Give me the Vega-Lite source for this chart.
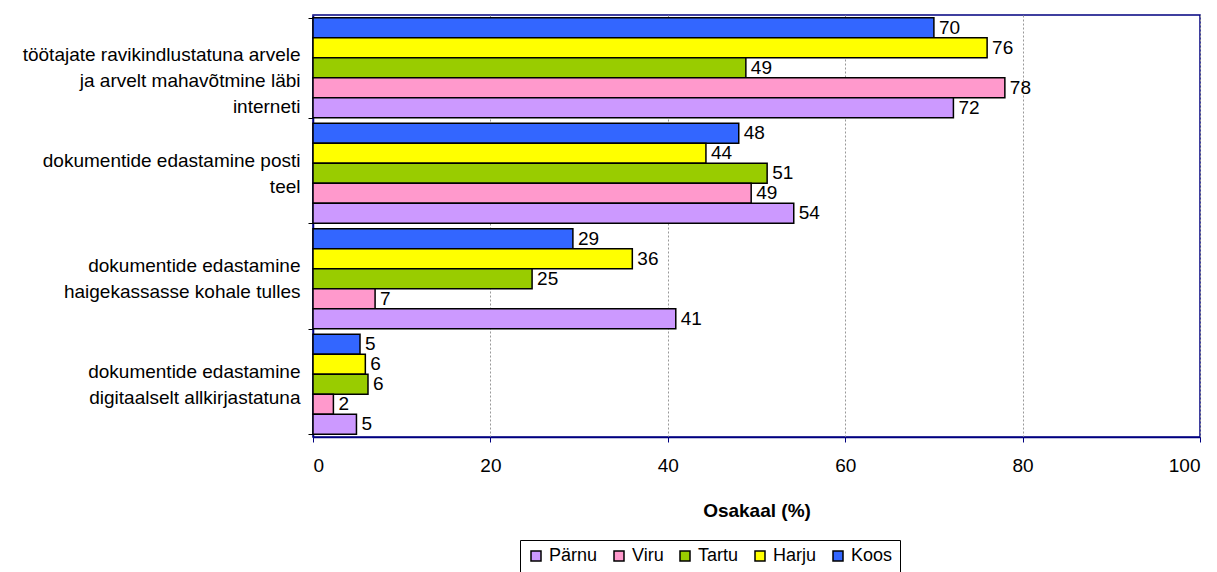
{
  "$schema": "https://vega.github.io/schema/vega-lite/v6.json",
  "width": 887,
  "height": 422,
  "autosize": "none",
  "padding": {"left": 313, "top": 15, "right": 17, "bottom": 135},
  "background": "white",
  "config": {
    "font": "Liberation Sans",
    "view": {"stroke": "#000080", "strokeWidth": 1.5},
    "axis": {"labelFont": "Liberation Sans", "titleFont": "Liberation Sans"}
  },
  "data": {
    "values": [
      {"cat": "töötajate ravikindlustatuna arvele|ja arvelt mahavõtmine läbi|interneti", "series": "Koos", "value": 70},
      {"cat": "töötajate ravikindlustatuna arvele|ja arvelt mahavõtmine läbi|interneti", "series": "Harju", "value": 76},
      {"cat": "töötajate ravikindlustatuna arvele|ja arvelt mahavõtmine läbi|interneti", "series": "Tartu", "value": 48.8},
      {"cat": "töötajate ravikindlustatuna arvele|ja arvelt mahavõtmine läbi|interneti", "series": "Viru", "value": 78},
      {"cat": "töötajate ravikindlustatuna arvele|ja arvelt mahavõtmine läbi|interneti", "series": "Pärnu", "value": 72.2},
      {"cat": "dokumentide edastamine posti|teel", "series": "Koos", "value": 48},
      {"cat": "dokumentide edastamine posti|teel", "series": "Harju", "value": 44.3},
      {"cat": "dokumentide edastamine posti|teel", "series": "Tartu", "value": 51.2},
      {"cat": "dokumentide edastamine posti|teel", "series": "Viru", "value": 49.4},
      {"cat": "dokumentide edastamine posti|teel", "series": "Pärnu", "value": 54.2},
      {"cat": "dokumentide edastamine|haigekassasse kohale tulles", "series": "Koos", "value": 29.3},
      {"cat": "dokumentide edastamine|haigekassasse kohale tulles", "series": "Harju", "value": 36},
      {"cat": "dokumentide edastamine|haigekassasse kohale tulles", "series": "Tartu", "value": 24.7},
      {"cat": "dokumentide edastamine|haigekassasse kohale tulles", "series": "Viru", "value": 7},
      {"cat": "dokumentide edastamine|haigekassasse kohale tulles", "series": "Pärnu", "value": 40.9},
      {"cat": "dokumentide edastamine|digitaalselt allkirjastatuna", "series": "Koos", "value": 5.3},
      {"cat": "dokumentide edastamine|digitaalselt allkirjastatuna", "series": "Harju", "value": 5.9},
      {"cat": "dokumentide edastamine|digitaalselt allkirjastatuna", "series": "Tartu", "value": 6.2},
      {"cat": "dokumentide edastamine|digitaalselt allkirjastatuna", "series": "Viru", "value": 2.3},
      {"cat": "dokumentide edastamine|digitaalselt allkirjastatuna", "series": "Pärnu", "value": 4.9}
    ]
  },
  "encoding": {
    "y": {
      "field": "cat", "type": "nominal", "sort": null,
      "scale": {"paddingInner": 0.05, "paddingOuter": 0.025},
      "axis": {
        "title": null,
        "labelExpr": "split(datum.label, '|')",
        "labelFontSize": 19,
        "labelLineHeight": 26,
        "labelColor": "black",
        "labelAlign": "right",
        "labelBaseline": "middle",
        "labelPadding": 8,
        "labelOffset": -13,
        "labelLimit": 400,
        "tickBand": "extent",
        "tickColor": "black",
        "tickSize": 5,
        "domainColor": "#000080",
        "domainWidth": 1.5
      }
    },
    "yOffset": {
      "field": "series", "type": "nominal",
      "sort": ["Koos", "Harju", "Tartu", "Viru", "Pärnu"],
      "scale": {"paddingInner": 0, "paddingOuter": 0}
    },
    "x": {
      "field": "value", "type": "quantitative",
      "scale": {"domain": [0, 100], "nice": false},
      "axis": {
        "title": "Osakaal (%)",
        "titleFontSize": 19,
        "titleFontWeight": "bold",
        "titleColor": "black",
        "titlePadding": 26,
        "values": [0, 20, 40, 60, 80, 100],
        "labelFontSize": 19,
        "labelColor": "black",
        "labelPadding": 14,
        "tickColor": "#000080",
        "tickSize": 5,
        "domainColor": "#000080",
        "domainWidth": 1.5,
        "grid": true,
        "gridColor": "#999999",
        "gridDash": [2, 2],
        "gridWidth": 1
      }
    }
  },
  "layer": [
    {
      "mark": {"type": "bar", "stroke": "black", "strokeWidth": 1.5},
      "encoding": {
        "color": {
          "field": "series", "type": "nominal",
          "scale": {
            "domain": ["Pärnu", "Viru", "Tartu", "Harju", "Koos"],
            "range": ["#CC99FF", "#FF99CC", "#99CC00", "#FFFF00", "#3366FF"]
          },
          "legend": {
            "title": null,
            "orient": "none",
            "legendX": 207,
            "legendY": 525,
            "direction": "horizontal",
            "symbolType": "square",
            "symbolSize": 100,
            "symbolStrokeColor": "black",
            "symbolStrokeWidth": 1.5,
            "labelFontSize": 18,
            "labelColor": "black",
            "labelOffset": 4,
            "columnPadding": 12,
            "strokeColor": "black",
            "padding": 7
          }
        }
      }
    },
    {
      "mark": {"type": "text", "align": "left", "baseline": "middle", "dx": 5, "fontSize": 19, "color": "black"},
      "encoding": {
        "text": {"field": "value", "type": "quantitative", "format": ".0f"}
      }
    }
  ]
}
